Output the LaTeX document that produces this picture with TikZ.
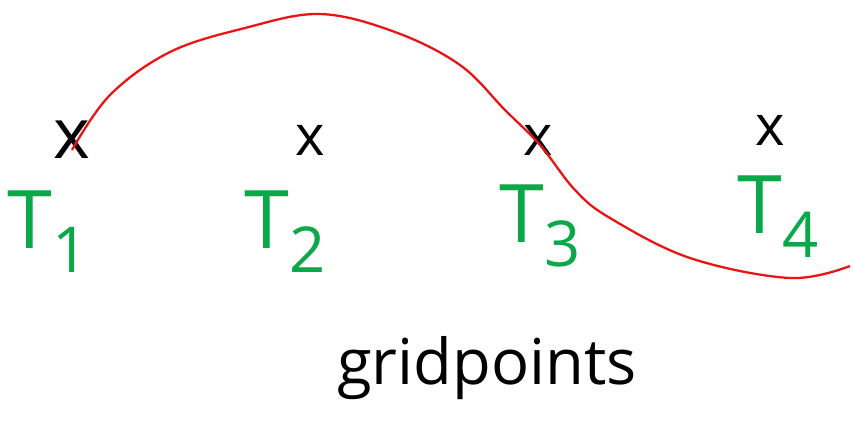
\documentclass[tikz,border=0pt]{standalone}
\usepackage{fontspec}
\setmainfont{Open Sans}
\usetikzlibrary{positioning}
\definecolor{penGreen}{RGB}{10,168,72}
\definecolor{penRed}{RGB}{235,20,20}
\newcommand{\gridT}[1]{T\raisebox{-0.3em}{\fontsize{36}{40}\selectfont #1}}

\begin{document}
\begin{tikzpicture}[
        x=0.02cm, y=-0.02cm,
        cross/.style={inner sep=0pt, font=\fontsize{32}{36}\selectfont},
        gridlbl/.style={text=penGreen, inner sep=0pt, font=\fontsize{46}{50}\selectfont},
        curve/.style={draw=penRed, line width=1.3pt},
    ]
    \useasboundingbox (0,0) rectangle (853,424);
    % grid points
    \node[cross, font=\fontsize{40}{44}\selectfont] (x1) at (72,140) {x};
    \node[cross] (x2) at (310,140) {x};
    \node[cross] (x3) at (538,140) {x};
    \node[cross] (x4) at (770,130) {x};
    % labels
    \node[gridlbl] (t1) at (48,232) {\gridT{1}};
    \node[gridlbl] (t2) at (285,232) {\gridT{2}};
    \node[gridlbl] (t3) at (540,226) {\gridT{3}};
    \node[gridlbl] (t4) at (778,217) {\gridT{4}};
    % curve
    \coordinate (c0) at (72,150);
    \coordinate (cend) at (850,266);
    \draw[curve] plot[smooth, tension=0.6] coordinates {
        (c0) (110,95) (170,52) (245,28) (320,14) (395,32) (460,65) (505,110)
        (540,145) (575,190) (610,218) (690,258) (790,278) (cend)};
    % caption
    \node[font=\fontsize{36}{40}\selectfont, inner sep=0pt] (cap) at (487,368) {gridpoints};
\end{tikzpicture}
\end{document}
